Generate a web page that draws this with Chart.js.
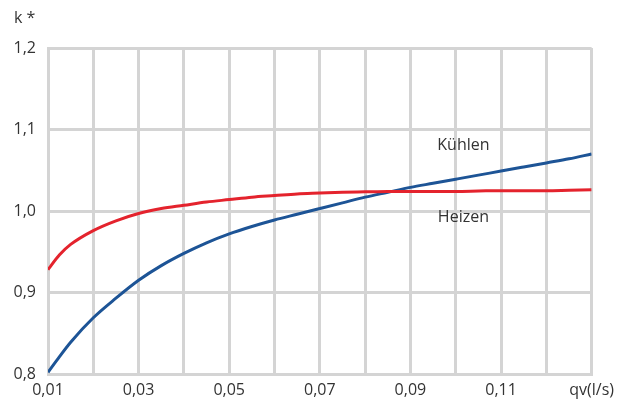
<!DOCTYPE html>
<html>
<head>
<meta charset="utf-8">
<script src="https://cdn.jsdelivr.net/npm/chart.js@4"></script>
<style>
html,body{margin:0;padding:0;background:#fff;}
#wrap{width:621px;height:407px;position:relative;}
</style>
</head>
<body>
<div id="wrap"><canvas id="c" width="621" height="407"></canvas></div>
<script>
const flowX = [0.01, 0.0125, 0.015, 0.02, 0.025, 0.03, 0.035, 0.04, 0.045, 0.05, 0.055, 0.06, 0.065, 0.07, 0.075, 0.08, 0.085, 0.09, 0.095, 0.10, 0.105, 0.11, 0.115, 0.12, 0.125, 0.13];
const heizen = [0.928, 0.946, 0.959, 0.976, 0.988, 0.997, 1.003, 1.007, 1.011, 1.014, 1.017, 1.019, 1.021, 1.022, 1.023, 1.0235, 1.024, 1.024, 1.024, 1.024, 1.0245, 1.025, 1.025, 1.025, 1.0255, 1.026];
const kuehlen = [0.802, 0.821, 0.839, 0.869, 0.893, 0.915, 0.933, 0.948, 0.961, 0.972, 0.981, 0.989, 0.996, 1.003, 1.010, 1.017, 1.023, 1.029, 1.034, 1.039, 1.044, 1.049, 1.054, 1.059, 1.064, 1.070];
const xTickLabels = {1: '0,01', 3: '0,03', 5: '0,05', 7: '0,07', 9: '0,09', 11: '0,11', 13: 'qv(l/s)'};
const yTickLabels = {8: '0,8', 9: '0,9', 10: '1,0', 11: '1,1', 12: '1,2'};
const seriesNames = ['Heizen', 'Kühlen'];
const axisTitle = 'k *';
const annotations = [
  {text: 'Kühlen', x: 0.1017, y: 1.081},
  {text: 'Heizen', x: 0.1017, y: 0.992}
];

const FONT = '"Open Sans", "Noto Sans", sans-serif';
const TXT = '#333333';
const GRID = '#d4d4d4';

const textPlugin = {
  id: 'texts',
  afterDraw(chart) {
    const ctx = chart.ctx;
    const xs = chart.scales.x, ys = chart.scales.y;
    ctx.save();
    ctx.fillStyle = TXT;
    ctx.font = '16px ' + FONT;
    ctx.textAlign = 'center';
    ctx.textBaseline = 'middle';
    annotations.forEach(a => {
      ctx.fillText(a.text, xs.getPixelForValue(a.x), ys.getPixelForValue(a.y));
    });
    ctx.textAlign = 'left';
    ctx.fillText(axisTitle, 14, 18);
    ctx.restore();
  }
};

const toPts = (vals) => flowX.map((x, i) => ({x: x, y: vals[i]}));

new Chart(document.getElementById('c'), {
  type: 'line',
  data: {
    datasets: [
      {label: seriesNames[0], data: toPts(heizen), borderColor: '#e4232d', borderWidth: 3, pointRadius: 0, cubicInterpolationMode: 'monotone', fill: false},
      {label: seriesNames[1], data: toPts(kuehlen), borderColor: '#1d5496', borderWidth: 3, pointRadius: 0, cubicInterpolationMode: 'monotone', fill: false}
    ]
  },
  options: {
    responsive: false,
    animation: false,
    layout: {padding: {left: 0, right: 29, top: 48, bottom: 0}},
    plugins: {legend: {display: false}, tooltip: {enabled: false}},
    scales: {
      x: {
        type: 'linear', min: 0.01, max: 0.13,
        afterFit(s) { s.height = 33; },
        grid: {color: GRID, lineWidth: 3, drawTicks: false},
        border: {color: GRID, width: 3},
        ticks: {
          stepSize: 0.01, autoSkip: false, maxRotation: 0, padding: 7,
          color: TXT, font: {family: FONT, size: 16},
          callback(v) { const k = Math.round(v * 100); return xTickLabels[k] || ''; }
        }
      },
      y: {
        min: 0.8, max: 1.2,
        afterFit(s) { s.width = 48; },
        grid: {color: GRID, lineWidth: 3, drawTicks: false},
        border: {color: GRID, width: 3},
        ticks: {
          stepSize: 0.1, padding: 12,
          color: TXT, font: {family: FONT, size: 16},
          callback(v) { const k = Math.round(v * 10); return yTickLabels[k] || ''; }
        }
      }
    }
  },
  plugins: [textPlugin]
});
</script>
</body>
</html>
